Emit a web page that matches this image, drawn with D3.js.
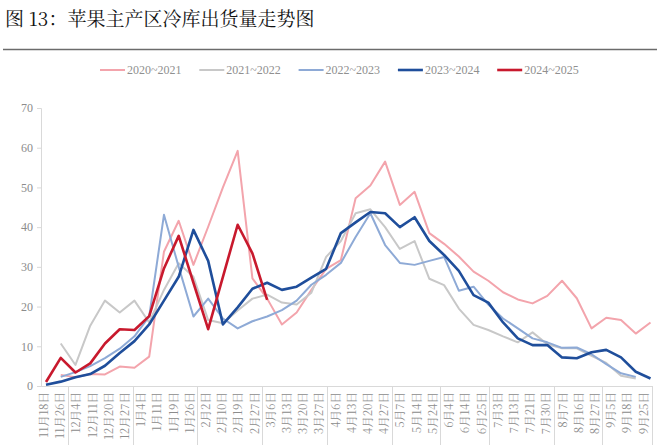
<!DOCTYPE html>
<html><head><meta charset="utf-8">
<script src="https://cdn.jsdelivr.net/npm/d3@7/dist/d3.min.js"></script>
<style>body{margin:0;background:#fff;} svg{display:block;}</style>
</head><body>
<svg id="c" width="660" height="445"></svg>
<script>
// axis labels (as printed under the chart)
const categories = ["11月18日","11月26日","12月4日","12月11日","12月20日","12月27日","1月4日","1月11日","1月19日","1月26日",
"2月2日","2月10日","2月19日","2月27日","3月6日","3月13日","3月20日","3月27日","4月6日","4月13日",
"4月20日","4月27日","5月7日","5月14日","5月24日","6月4日","6月14日","6月25日","7月3日","7月13日",
"7月21日","7月30日","8月7日","8月16日","8月27日","9月5日","9月18日","9月25日"];
// weekly readings (42 weeks per season)
const s2020_2021 = [null,2.8,2.2,3.0,2.9,4.9,4.6,7.4,33.8,41.6,30.5,40.1,50,59.2,27.1,22,15.5,18.5,24.2,29.5,31.7,47.3,50.5,56.5,45.6,48.9,38.5,35.8,32.6,28.8,26.5,23.6,21.8,20.8,22.7,26.5,22.1,14.5,17.2,16.6,13.2,16.0];
const s2021_2022 = [null,10.7,5.3,15.2,21.5,18.5,21.5,16,24.2,30.9,27.5,16.6,15.8,19,22,23,21,20.5,23.5,32.5,36.5,43.5,44.5,40,34.5,36.5,27,25.4,19.5,15.4,14.1,12.5,11,13.5,10.5,9.5,9.5,7.6,5.8,2.6,1.9,null];
const s2022_2023 = [null,2.3,3.5,5.0,7.0,9.4,12.5,17.5,43.1,30,17.5,22,17,14.5,16.3,17.5,19.1,21.5,25.5,28,31,37.5,43.5,35.5,31,30.5,31.5,32.5,24,25,20.5,17,14.5,12,11,9.6,9.7,8,5.5,3.2,2.3,null];
const s2023_2024 = [0.3,1.1,2.2,3.0,5.1,8.3,11.3,15.5,21.5,27.5,39.3,31.5,15.5,19.8,24.5,26,24.2,25,27.3,29.5,38.5,41.2,43.8,43.5,40,42.5,36.5,33,29,22.9,21,16,12,10.3,10.3,7.2,7.0,8.5,9.1,7.2,3.6,1.9];
const s2024_2025 = [1.0,7.1,3.4,5.7,10.7,14.3,14.1,17.6,29.6,37.8,26.0,14.3,27.5,40.6,33.4,21.7];
const seriesNames = ["2020~2021","2021~2022","2022~2023","2023~2024","2024~2025"];
const yTicks = [0,10,20,30,40,50,60,70];
const titleText = "图 13：苹果主产区冷库出货量走势图";

(function(){
const seriesData = [s2020_2021, s2021_2022, s2022_2023, s2023_2024, s2024_2025];
const colors = ["#f3a4ac","#c8c8c8","#8eaad6","#1f4e9b","#c8192d"];
const widths = [2,2,2,2.6,2.6];
const nWeeks = s2023_2024.length;

const svg = d3.select("#c");
const CJK = "'Noto Serif CJK SC','Noto Sans CJK SC',serif";
const SERIF = "'Liberation Serif','Times New Roman',serif";

svg.append("text").attr("x",5).attr("y",26).attr("font-family",CJK).attr("font-size",19)
  .attr("fill","#111").text(titleText);
svg.append("line").attr("x1",3).attr("x2",657).attr("y1",49.5).attr("y2",49.5)
  .attr("stroke","#6b6b6b").attr("stroke-width",1.5);

const pL = 41, pR = 652, pT = 108, pB = 386;
const xw = d3.scaleLinear().domain([0, nWeeks-1]).range([46, 650.5]);
const xl = d3.scalePoint().domain(categories).range([43.5, 643]);
const y = d3.scaleLinear().domain([0,70]).range([pB, pT]);

const yAxis = d3.axisLeft(y).tickValues(yTicks).tickSize(4).tickPadding(4);
const gy = svg.append("g").attr("transform",`translate(${pL},0)`).call(yAxis);
gy.select(".domain").attr("stroke","#d9d9d9");
gy.selectAll(".tick line").attr("stroke","#d9d9d9");
gy.selectAll(".tick text").attr("fill","#8c8c8c").attr("font-family",SERIF).attr("font-size",12);

svg.append("line").attr("x1",pL).attr("x2",pR).attr("y1",pB+0.5).attr("y2",pB+0.5).attr("stroke","#d9d9d9");
const step = xl.step();
const monthOf = c => c.split("月")[0];
const seps = [];
for (let i=1;i<categories.length;i++){
  if (monthOf(categories[i])!==monthOf(categories[i-1])) seps.push(xl(categories[i]) - step/2);
}
seps.push(pR);
svg.append("g").selectAll("line").data(seps).join("line")
  .attr("x1",d=>Math.round(d)+0.5).attr("x2",d=>Math.round(d)+0.5).attr("y1",pB).attr("y2",445)
  .attr("stroke","#d9d9d9");
const xAxis = d3.axisBottom(xl).tickSize(0).tickPadding(0);
const gx = svg.append("g").attr("transform",`translate(0,${pB})`).call(xAxis);
gx.select(".domain").remove();
gx.selectAll(".tick text")
  .attr("transform","rotate(-90)")
  .attr("x",-6).attr("y",0).attr("dy","0.35em")
  .attr("text-anchor","end")
  .attr("fill","#8c8c8c").attr("font-family",CJK).attr("font-size",11.5);

const line = d3.line().defined(d=>d.v!=null).x(d=>xw(d.i)).y(d=>y(d.v));
seriesData.forEach((s,k)=>{
  const pts = s.map((v,i)=>({i:i, v:v}));
  svg.append("path").datum(pts).attr("d",line).attr("fill","none")
    .attr("stroke",colors[k]).attr("stroke-width",widths[k]).attr("stroke-linejoin","round");
});

const lg = svg.append("g").attr("transform","translate(100,70)");
seriesNames.forEach((n,k)=>{
  const g = lg.append("g").attr("transform",`translate(${k*99.3},0)`);
  g.append("line").attr("x1",0).attr("x2",25).attr("y1",0).attr("y2",0)
    .attr("stroke",colors[k]).attr("stroke-width",widths[k]);
  g.append("text").attr("x",27).attr("y",0).attr("dy","0.35em")
    .attr("font-family",SERIF).attr("font-size",12).attr("fill","#909090").text(n);
});
})();
</script>
</body></html>
